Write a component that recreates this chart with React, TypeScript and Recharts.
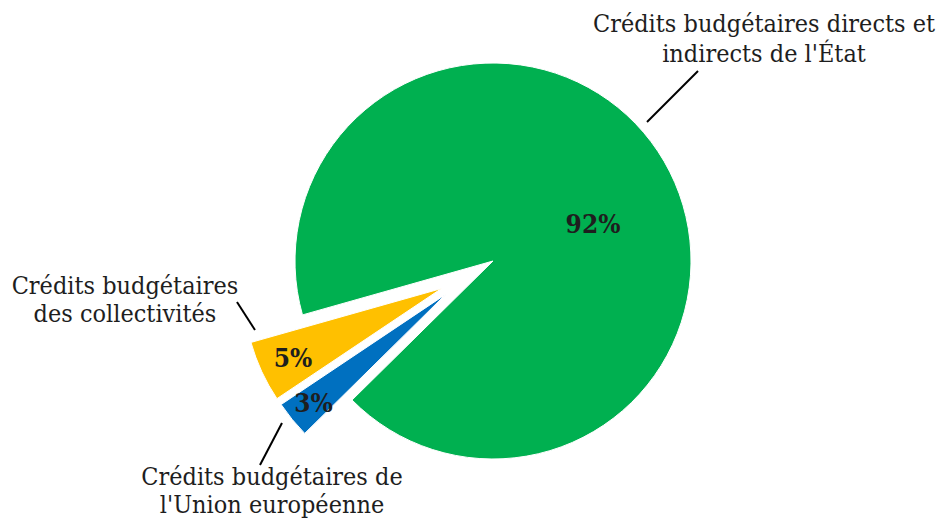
import React from 'react';
import { PieChart, Pie, Cell } from 'recharts';

// ---- data ----
const categories: string[] = [
  "Crédits budgétaires directs et indirects de l'État",
  'Crédits budgétaires des collectivités',
  "Crédits budgétaires de l'Union européenne",
];
const shares: number[] = [92, 5, 3];
const labelLines: string[][] = [
  ['Crédits budgétaires directs et', "indirects de l'État"],
  ['Crédits budgétaires', 'des collectivités'],
  ['Crédits budgétaires de', "l'Union européenne"],
];

// ---- styles / layout ----
const colors = ['#00B050', '#FFC000', '#0070C0'];
const W = 941;
const H = 527;
const CX = 493;
const CY = 261;
const R = 198;
const START = 224.6;
const FONT = 'DejaVu Serif';
const TEXT = '#1e1e1e';
const CAT_SIZE = 24.5;
const CAT_SX = 0.918;
const PCT_SIZE = 26;
const PCT_SX = 0.9;

// explosion of each slice: distance from the pie centre and small angular shift from its mid angle
const explode = [
  { dist: 0, shift: 0 },
  { dist: 58.4, shift: 3.3 },
  { dist: 57.9, shift: -4 },
];
// label layout, offsets relative to each slice's own centre
const pctPos = [
  { dx: 100, dy: -28 },
  { dx: -148.5, dy: 78.5 },
  { dx: -132.2, dy: 117.6 },
];
const leader = [
  { x1: 154, y1: -139, x2: 205, y2: -190 },
  { x1: -186.5, y1: 41.5, x2: -204.5, y2: 13.5 },
  { x1: -163.7, y1: 128.6, x2: -185.7, y2: 170.6 },
];
const textPos = [
  { dx: 271, dy: -229, lh: 30 },
  { dx: -316.5, dy: 5.5, lh: 28 },
  { dx: -173.7, dy: 190.6, lh: 28 },
];

const data = categories.map((name, i) => ({ name, value: shares[i] }));

const total = shares.reduce((a, b) => a + b, 0);
let acc = START;
const mids = shares.map((v) => {
  const a0 = acc;
  acc += (v / total) * 360;
  return (a0 + acc) / 2;
});
const rad = (d: number) => (d * Math.PI) / 180;
const centers = mids.map((m, i) => {
  const a = rad(m + explode[i].shift);
  return { x: CX + explode[i].dist * Math.cos(a), y: CY - explode[i].dist * Math.sin(a) };
});

const makeLabel = (visible: number) => (props: any) => {
  const { index, cx, cy, percent } = props;
  if (index !== visible) return null;
  const p = pctPos[index];
  const l = leader[index];
  const t = textPos[index];
  return (
    <g key={`lbl-${index}`}>
      <text
        transform={`translate(${cx + p.dx},${cy + p.dy}) scale(${PCT_SX},1)`}
        x={0}
        y={0}
        textAnchor="middle"
        fontFamily={FONT}
        fontWeight="bold"
        fontSize={PCT_SIZE}
        fill={TEXT}
      >
        {`${Math.round(percent * 100)}%`}
      </text>
      <line x1={cx + l.x1} y1={cy + l.y1} x2={cx + l.x2} y2={cy + l.y2} stroke="#000" strokeWidth={2} />
      <text
        transform={`translate(${cx + t.dx},${cy + t.dy}) scale(${CAT_SX},1)`}
        x={0}
        y={0}
        textAnchor="middle"
        fontFamily={FONT}
        fontSize={CAT_SIZE}
        fill={TEXT}
      >
        {labelLines[index].map((s, k) => (
          <tspan key={k} x={0} y={k * t.lh}>
            {s}
          </tspan>
        ))}
      </text>
    </g>
  );
};

export default function App() {
  return (
    <div style={{ position: 'absolute', left: 0, top: 0, width: W, height: H, background: '#fff' }}>
      <PieChart width={W} height={H} margin={{ top: 0, right: 0, bottom: 0, left: 0 }}>
        {data.map((_, vi) => (
          <Pie
            key={vi}
            data={data}
            dataKey="value"
            nameKey="name"
            cx={centers[vi].x}
            cy={centers[vi].y}
            outerRadius={R}
            innerRadius={0}
            startAngle={START}
            endAngle={START + 360}
            stroke="#fff"
            strokeWidth={1}
            isAnimationActive={false}
            labelLine={false}
            label={makeLabel(vi)}
          >
            {data.map((d, ci) => (
              <Cell
                key={ci}
                fill={ci === vi ? colors[ci] : 'transparent'}
                stroke={ci === vi ? '#fff' : 'none'}
              />
            ))}
          </Pie>
        ))}
      </PieChart>
    </div>
  );
}
